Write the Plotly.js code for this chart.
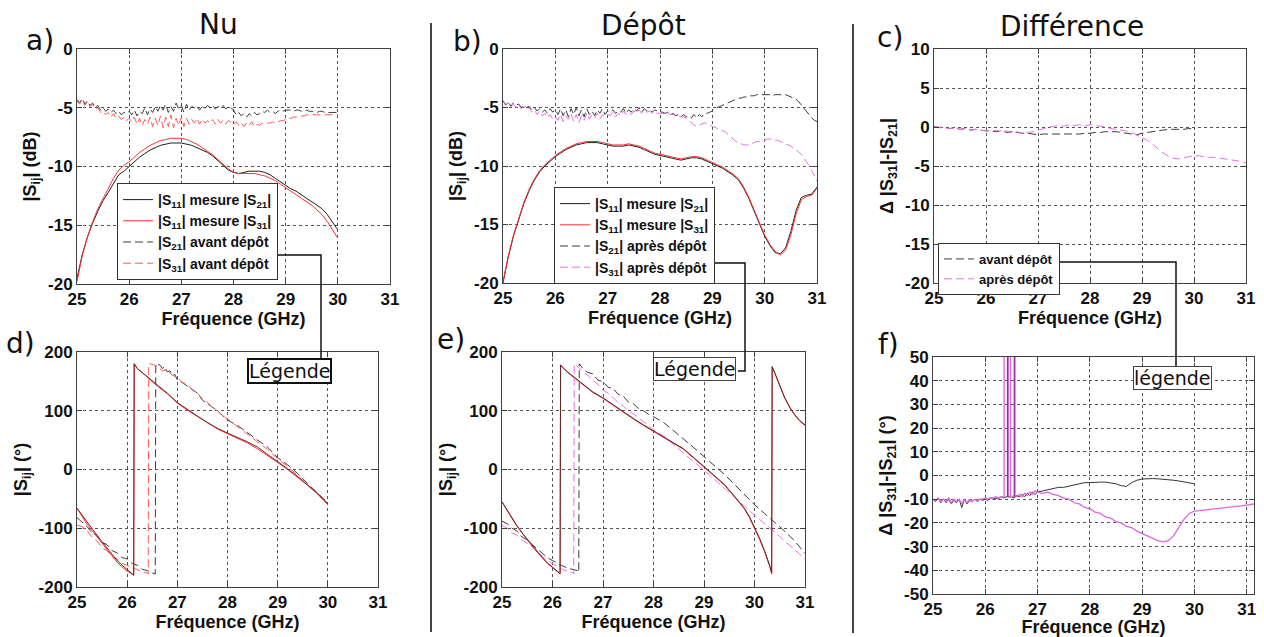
<!DOCTYPE html>
<html><head><meta charset="utf-8">
<script src="https://cdn.plot.ly/plotly-3.0.1.min.js"></script>
<style>html,body{margin:0;padding:0;background:#fff;}#chart{width:1264px;height:637px;}</style>
</head><body><div id="chart"></div>
<script>
// ---------------- DATA ----------------
const FREQ_A_01 = [25.0,25.1,25.2,25.3,25.4,25.5,25.6,25.7,25.8,25.9,26.0,26.1,26.2,26.3,26.4,26.5,26.6,26.7,26.8,26.9,27.0,27.1,27.2,27.3,27.4,27.5,27.6,27.7,27.8,27.9,28.0,28.1,28.2,28.3,28.4,28.5,28.6,28.7,28.8,28.9,29.0,29.1,29.2,29.3,29.4,29.5,29.6,29.7,29.8,29.9,30.0];
const FREQ_B_01 = [25.0,25.1,25.2,25.3,25.4,25.5,25.6,25.7,25.8,25.9,26.0,26.1,26.2,26.3,26.4,26.5,26.6,26.7,26.8,26.9,27.0,27.1,27.2,27.3,27.4,27.5,27.6,27.7,27.8,27.9,28.0,28.1,28.2,28.3,28.4,28.5,28.6,28.7,28.8,28.9,29.0,29.1,29.2,29.3,29.4,29.5,29.6,29.7,29.8,29.9,30.0,30.1,30.2,30.3,30.4,30.5,30.6,30.7,30.8,30.9,31.0];
const FREQ_A_005 = [25.00,25.05,25.10,25.15,25.20,25.25,25.30,25.35,25.40,25.45,25.50,25.55,25.60,25.65,25.70,25.75,25.80,25.85,25.90,25.95,26.00,26.05,26.10,26.15,26.20,26.25,26.30,26.35,26.40,26.45,26.50,26.55,26.60,26.65,26.70,26.75,26.80,26.85,26.90,26.95,27.00,27.05,27.10,27.15,27.20,27.25,27.30,27.35,27.40,27.45,27.50,27.55,27.60,27.65,27.70,27.75,27.80,27.85,27.90,27.95,28.00,28.05,28.10,28.15,28.20,28.25,28.30,28.35,28.40,28.45,28.50,28.55,28.60,28.65,28.70,28.75,28.80,28.85,28.90,28.95,29.00,29.05,29.10,29.15,29.20,29.25,29.30,29.35,29.40,29.45,29.50,29.55,29.60,29.65,29.70,29.75,29.80,29.85,29.90,29.95,30.00];
const FREQ_B_005 = [25.00,25.05,25.10,25.15,25.20,25.25,25.30,25.35,25.40,25.45,25.50,25.55,25.60,25.65,25.70,25.75,25.80,25.85,25.90,25.95,26.00,26.05,26.10,26.15,26.20,26.25,26.30,26.35,26.40,26.45,26.50,26.55,26.60,26.65,26.70,26.75,26.80,26.85,26.90,26.95,27.00,27.05,27.10,27.15,27.20,27.25,27.30,27.35,27.40,27.45,27.50,27.55,27.60,27.65,27.70,27.75,27.80,27.85,27.90,27.95,28.00,28.05,28.10,28.15,28.20,28.25,28.30,28.35,28.40,28.45,28.50,28.55,28.60,28.65,28.70,28.75,28.80,28.85,28.90,28.95,29.00,29.05,29.10,29.15,29.20,29.25,29.30,29.35,29.40,29.45,29.50,29.55,29.60,29.65,29.70,29.75,29.80,29.85,29.90,29.95,30.00,30.05,30.10,30.15,30.20,30.25,30.30,30.35,30.40,30.45,30.50,30.55,30.60,30.65,30.70,30.75,30.80,30.85,30.90,30.95,31.00];

// tick labels (hyphen minus, as in the reference)
const X_TICKS = [25,26,27,28,29,30,31];
const Y_TICKS_DB = [-20,-15,-10,-5,0];
const Y_TICKTEXT_DB = ['-20','-15','-10','-5','0'];
const Y_TICKS_DIFF = [-20,-15,-10,-5,0,5,10];
const Y_TICKTEXT_DIFF = ['-20','-15','-10','-5','0','5','10'];
const Y_TICKS_PH = [-200,-100,0,100,200];
const Y_TICKTEXT_PH = ['-200','-100','0','100','200'];
const Y_TICKS_DPH = [-50,-40,-30,-20,-10,0,10,20,30,40,50];
const Y_TICKTEXT_DPH = ['-50','-40','-30','-20','-10','0','10','20','30','40','50'];

// a) Nu : magnitude (dB)
const A_S11_S21 = [-19.5,-17.5,-16.0,-14.8,-13.8,-12.9,-12.2,-11.4,-10.7,-10.4,-10.0,-9.6,-9.2,-8.9,-8.6,-8.4,-8.2,-8.1,-8.0,-8.0,-8.0,-8.1,-8.2,-8.4,-8.6,-8.8,-9.1,-9.5,-9.9,-10.3,-10.5,-10.6,-10.5,-10.4,-10.4,-10.4,-10.5,-10.7,-11.0,-11.3,-11.6,-11.9,-12.1,-12.4,-12.7,-13.0,-13.3,-13.6,-14.1,-14.7,-15.4];
const A_S11_S31 = [-19.8,-17.6,-16.0,-14.7,-13.6,-12.7,-11.8,-11.0,-10.3,-9.9,-9.6,-9.2,-8.8,-8.5,-8.2,-8.0,-7.8,-7.7,-7.6,-7.6,-7.6,-7.7,-7.9,-8.1,-8.4,-8.7,-9.0,-9.4,-9.8,-10.2,-10.5,-10.6,-10.6,-10.6,-10.6,-10.7,-10.8,-11.0,-11.2,-11.5,-11.8,-12.1,-12.4,-12.7,-13.0,-13.3,-13.7,-14.1,-14.7,-15.4,-16.1];
const A_S21_AVANT = [-4.3,-4.6,-4.2,-4.7,-4.4,-4.8,-4.6,
 -5.0,-4.8,-5.2,-5.0,-5.3,-5.1,-5.4,-5.2,-5.5,-5.3,-5.6,-5.4,-5.5,-5.3,
 -5.6,-5.2,-5.7,-5.3,-5.5,-5.0,-5.6,-5.1,-5.4,-4.9,
 -5.3,-4.8,-5.2,-4.7,-5.4,-4.9,-5.3,-4.6,-5.1,-4.8,-5.4,-4.7,-5.2,-4.9,-5.0,-4.8,-5.2,-4.9,-5.1,-4.8,
 -5.0,-4.8,-5.1,-4.9,-5.0,-4.8,-5.1,-4.9,-5.0,-5.2,
 -5.6,-5.4,-5.7,-5.5,-5.8,-5.5,-5.7,-5.4,-5.6,-5.5,
 -5.3,-5.4,-5.2,-5.4,-5.3,-5.5,-5.3,-5.2,-5.3,-5.2,
 -5.2,-5.2,-5.3,-5.2,-5.2,-5.3,-5.3,-5.2,-5.3,-5.3,-5.3,-5.4,-5.3,-5.3,-5.4,-5.4,-5.4,-5.4,-5.4,-5.4];
const A_S31_AVANT = [-4.4,-4.7,-4.3,-4.8,-4.5,-4.9,-4.7,
 -5.1,-5.0,-5.4,-5.3,-5.6,-5.4,-5.8,-5.5,-5.9,-5.7,-6.0,-5.8,-6.1,-5.9,
 -6.2,-5.8,-6.4,-5.9,-6.5,-6.0,-6.4,-5.8,-6.6,-5.9,
 -6.5,-5.7,-6.7,-5.8,-6.6,-5.6,-6.7,-5.9,-6.5,-5.8,-6.6,-5.9,-6.4,-6.0,-6.3,-5.9,-6.4,-6.0,-6.3,-6.1,
 -6.3,-6.0,-6.4,-6.0,-6.3,-6.1,-6.4,-6.1,-6.2,-6.4,
 -6.2,-6.5,-6.3,-6.6,-6.3,-6.5,-6.2,-6.6,-6.4,-6.5,
 -6.3,-6.4,-6.3,-6.3,-6.2,-6.3,-6.2,-6.1,-6.1,-6.0,
 -5.9,-5.9,-5.8,-5.8,-5.7,-5.7,-5.7,-5.6,-5.6,-5.6,-5.6,-5.6,-5.6,-5.6,-5.6,-5.6,-5.6,-5.6,-5.6,-5.6];

// b) Dépôt : magnitude (dB)
const B_S11_S21 = [-20.0,-17.8,-16.0,-14.5,-13.2,-12.1,-11.2,-10.5,-10.0,-9.6,-9.2,-8.9,-8.6,-8.4,-8.2,-8.1,-8.0,-8.0,-8.0,-8.1,-8.2,-8.3,-8.3,-8.3,-8.2,-8.3,-8.4,-8.6,-8.8,-9.0,-9.1,-9.2,-9.3,-9.4,-9.5,-9.4,-9.3,-9.3,-9.4,-9.6,-9.8,-10.0,-10.2,-10.5,-10.8,-11.2,-11.9,-12.8,-13.9,-15.0,-16.0,-16.8,-17.4,-17.5,-17.0,-15.6,-13.8,-12.7,-12.5,-12.4,-11.8];
const B_S11_S31 = [-19.9,-17.7,-15.9,-14.4,-13.1,-12.0,-11.1,-10.4,-9.9,-9.5,-9.1,-8.8,-8.5,-8.3,-8.1,-8.0,-7.9,-7.9,-7.9,-8.0,-8.1,-8.2,-8.2,-8.2,-8.1,-8.2,-8.3,-8.5,-8.7,-8.9,-9.0,-9.1,-9.2,-9.3,-9.4,-9.3,-9.2,-9.2,-9.3,-9.5,-9.7,-9.9,-10.1,-10.4,-10.7,-11.1,-11.8,-12.7,-13.8,-14.9,-15.9,-16.7,-17.3,-17.6,-17.2,-15.9,-14.1,-12.9,-12.6,-12.5,-11.9];
const B_S21_APRES = [-4.4,-4.8,-4.5,-4.9,-4.6,-4.8,-4.7,-5.0,-4.8,-5.0,-4.9,
 -5.2,-5.0,-5.3,-5.1,-5.4,-5.2,-5.5,-5.1,-5.4,-5.2,
 -5.6,-5.1,-5.7,-5.2,-5.8,-5.1,-5.6,-5.0,-5.7,-5.2,-5.8,-5.1,-5.6,-5.3,-5.7,-5.2,-5.5,-5.1,-5.6,-5.3,
 -5.4,-5.2,-5.5,-5.3,-5.4,-5.1,-5.5,-5.2,-5.4,-5.1,-5.3,-5.0,-5.4,-5.1,-5.3,-5.2,-5.4,-5.2,-5.3,-5.4,
 -5.4,-5.5,-5.4,-5.6,-5.5,-5.7,-5.6,-5.8,-5.6,-5.8,
 -5.7,-5.9,-5.6,-5.9,-5.6,-5.8,-5.5,-5.5,-5.4,-5.3,
 -5.1,-5.0,-4.9,-4.8,-4.7,-4.6,-4.5,-4.4,-4.3,-4.2,
 -4.2,-4.1,-4.1,-4.0,-4.0,-4.0,-3.9,-3.9,-3.9,-3.9,
 -3.9,-3.9,-4.0,-3.9,-3.9,-3.9,-4.0,-3.9,-4.0,-4.1,
 -4.2,-4.3,-4.5,-4.8,-5.1,-5.4,-5.7,-5.9,-6.1,-6.2];
const B_S31_APRES = [-4.5,-4.7,-4.6,-4.9,-4.7,-5.0,-4.8,-5.1,-4.9,-5.2,-5.0,
 -5.4,-5.2,-5.6,-5.3,-5.7,-5.5,-5.9,-5.6,-6.0,-5.8,
 -6.1,-5.6,-6.2,-5.7,-6.0,-5.5,-6.2,-5.6,-6.3,-5.7,-6.1,-5.5,-6.0,-5.6,-5.9,-5.5,-6.0,-5.6,-5.8,-5.6,
 -5.7,-5.4,-5.8,-5.5,-5.7,-5.3,-5.6,-5.4,-5.6,-5.3,-5.5,-5.2,-5.5,-5.3,-5.4,-5.3,-5.5,-5.4,-5.5,-5.5,
 -5.5,-5.6,-5.5,-5.6,-5.6,-5.7,-5.7,-5.8,-5.8,-5.9,
 -6.1,-6.3,-6.5,-6.6,-6.5,-6.4,-6.3,-6.4,-6.5,-6.6,
 -6.7,-6.8,-6.9,-7.0,-7.1,-7.3,-7.5,-7.7,-7.9,-8.0,
 -8.1,-8.2,-8.2,-8.2,-8.1,-8.0,-7.9,-7.9,-7.8,-7.8,
 -7.7,-7.7,-7.7,-7.8,-7.8,-7.9,-8.0,-8.1,-8.2,-8.3,
 -8.5,-8.6,-8.8,-9.0,-9.3,-9.6,-10.0,-10.4,-10.8,-11.3];

// c) Différence (dB)
const C_AVANT = [0.1,-0.1,0.0,-0.2,-0.1,-0.3,-0.2,-0.4,-0.3,-0.4,-0.5,
 -0.5,-0.6,-0.5,-0.7,-0.6,-0.7,-0.8,-0.8,
 -0.9,-1.0,-0.9,-0.9,-0.9,-0.9,-0.9,-0.9,-0.9,-0.9,-0.8,-0.8,
 -0.7,-0.7,-0.6,-0.6,-0.6,
 -0.7,-0.8,-0.9,-1.0,-0.8,
 -0.7,-0.6,-0.5,-0.4,-0.3,-0.3,-0.3,-0.3,-0.2,-0.2];
const C_APRES = [0.1,0.0,-0.1,-0.2,-0.1,-0.3,-0.2,-0.4,-0.3,-0.5,-0.4,
 -0.6,-0.4,-0.7,-0.5,-0.8,-0.6,-0.9,-0.7,-0.6,-0.4,
 -0.2,0.0,0.1,0.2,0.1,0.3,0.2,0.3,0.1,0.3,
 0.2,0.1,0.0,-0.2,-0.3,
 -0.4,-0.5,-0.7,-1.0,-1.3,
 -1.7,-2.2,-2.8,-3.3,-3.7,
 -4.0,-4.1,-4.0,-3.8,-3.7,
 -3.7,-3.8,-3.9,-3.9,-4.0,-4.1,-4.2,-4.3,-4.4,-4.6];

// d) Nu : phase (°)
const D_SOLID_F = [25.0,25.1,25.2,25.3,25.4,25.5,25.6,25.7,25.8,25.9,26.0,26.1,26.13,26.14,26.2,26.3,26.4,26.5,26.6,26.8,27.0,27.2,27.4,27.6,27.8,28.0,28.2,28.4,28.6,28.8,29.0,29.2,29.4,29.6,29.8,30.0];
const D_S11_S21 = [-66,-78,-90,-101,-112,-123,-134,-145,-155,-163,-170,-177,-180,180,172,165,158,150,143,130,114,102,91,80,70,62,55,47,38,26,13,1,-12,-26,-41,-58];
const D_S11_S31 = [-66,-80,-93,-104,-115,-126,-137,-148,-158,-166,-173,-178,-180,180,172,165,157,149,142,129,113,101,90,79,69,61,53,45,35,24,12,0,-13,-27,-42,-60];
const D_S21_F = [25.0,25.1,25.2,25.3,25.4,25.5,25.6,25.7,25.8,25.9,26.0,26.1,26.2,26.3,26.4,26.5,26.56,26.57,26.65,26.7,26.75,26.8,26.85,26.9,26.95,27.0,27.1,27.2,27.3,27.4,27.5,27.6,27.7,27.8,27.9,28.0,28.2,28.4,28.6,28.8,29.0,29.2,29.4,29.6,29.8,30.0];
const D_S21_AVANT = [-82,-90,-97,-108,-112,-124,-128,-138,-142,-150,-152,-160,-163,-170,-172,-176,-178,180,178,172,175,166,168,160,162,152,148,142,136,130,118,112,105,100,92,84,75,62,50,38,20,8,-7,-24,-40,-57];
const D_S31_F = [25.0,25.1,25.2,25.3,25.4,25.5,25.6,25.7,25.8,25.9,26.0,26.1,26.2,26.3,26.4,26.42,26.43,26.5,26.6,26.7,26.8,26.9,27.0,27.1,27.2,27.3,27.4,27.5,27.6,27.7,27.8,27.9,28.0,28.2,28.4,28.6,28.8,29.0,29.2,29.4,29.6,29.8,30.0];
const D_S31_AVANT = [-95,-97,-104,-115,-122,-133,-138,-148,-152,-160,-163,-168,-170,-175,-176,-178,180,179,176,168,170,160,158,148,145,135,130,120,115,105,100,92,86,73,60,47,34,18,5,-10,-27,-42,-60];

// e) Dépôt : phase (°)
const E_SOLID_F = [25.0,25.1,25.2,25.3,25.4,25.5,25.6,25.7,25.8,25.9,26.0,26.1,26.15,26.16,26.2,26.3,26.4,26.5,26.6,26.8,27.0,27.2,27.4,27.6,27.8,28.0,28.2,28.4,28.6,28.8,29.0,29.2,29.4,29.6,29.7,29.8,29.9,30.0,30.1,30.2,30.25,30.3,30.34,30.35,30.4,30.5,30.6,30.7,30.8,30.9,31.0];
const E_S11_S21 = [-55,-69,-83,-96,-108,-119,-130,-140,-150,-159,-166,-173,-177,178,174,166,159,152,145,132,122,110,98,87,76,66,56,46,35,20,5,-10,-25,-45,-55,-66,-80,-98,-117,-138,-150,-163,-176,175,165,142,122,106,93,83,76];
const E_S11_S31 = [-55,-70,-84,-97,-109,-120,-131,-141,-151,-160,-167,-174,-178,178,173,165,158,151,144,131,121,109,97,86,75,65,55,45,34,19,4,-11,-26,-46,-56,-67,-82,-100,-119,-140,-152,-165,-178,175,164,141,121,105,92,82,75];
const E_S21_F = [25.0,25.1,25.2,25.3,25.4,25.5,25.6,25.7,25.8,25.9,26.0,26.1,26.2,26.3,26.4,26.5,26.52,26.53,26.6,26.7,26.8,26.9,27.0,27.1,27.2,27.3,27.4,27.5,27.6,27.7,27.8,27.9,28.0,28.2,28.4,28.6,28.8,29.0,29.2,29.4,29.6,29.8,30.0,30.2,30.4,30.6,30.8,31.0];
const E_S21_APRES = [-88,-92,-100,-105,-115,-120,-128,-135,-143,-150,-155,-160,-164,-168,-170,-172,-175,180,172,165,163,152,150,140,138,128,125,115,112,104,100,94,90,80,66,52,37,22,7,-8,-25,-42,-60,-75,-90,-105,-122,-143];
const E_S31_F = [25.0,25.1,25.2,25.3,25.4,25.5,25.6,25.7,25.8,25.9,26.0,26.1,26.2,26.3,26.4,26.42,26.43,26.5,26.6,26.7,26.8,26.9,27.0,27.1,27.2,27.3,27.4,27.5,27.6,27.7,27.8,27.9,28.0,28.2,28.4,28.6,28.8,29.0,29.2,29.4,29.6,29.8,30.0,30.2,30.4,30.6,30.8,31.0];
const E_S31_APRES = [-95,-100,-108,-112,-120,-126,-132,-140,-148,-155,-160,-165,-170,-173,-176,-178,180,175,168,160,152,145,135,130,122,114,108,100,95,88,82,75,68,57,42,27,13,-1,-16,-31,-47,-62,-78,-92,-106,-122,-137,-152];

// f) Différence : phase (°)
const F_AVANT_F = [25.00,25.05,25.10,25.15,25.20,25.25,25.30,25.35,25.40,25.45,25.50,25.55,25.60,25.65,25.70,25.75,25.80,25.85,25.90,25.95,26.00,26.05,26.10,26.15,26.20,26.25,26.30,26.35,26.40,26.45,26.50,26.55,26.60,26.65,26.70,26.75,26.80,26.85,26.90,26.95,27.0,27.1,27.2,27.3,27.4,27.5,27.6,27.7,27.8,27.9,28.0,28.1,28.2,28.3,28.4,28.5,28.6,28.7,28.8,28.9,29.0,29.1,29.2,29.3,29.4,29.5,29.6,29.7,29.8,29.9,30.0];
const F_AVANT = [-10,-11,-9.5,-11.5,-10,-11.5,-10,-12,-10.5,-11.5,-10,-13.5,-10,-12,-10.5,-11,-10,-11,-10,-10.5,-10,-10.5,-9.5,-10,-9.5,-10,-9,-9.5,-9,-9,-9,-9.5,-8.5,-9,-8,-9,-7.5,-8.5,-7,-8,
 -7,-6.5,-6,-5.5,-5,-5,-4.5,-4,-3.5,-3,-3,-2.8,-2.8,-2.8,-3,-3.5,-4.3,-4.6,-3,-2,-1.5,-1.3,-1.3,-1.4,-1.5,-1.7,-2,-2.3,-2.7,-3,-3.5];
const F_AVANT_SPIKE_F = [26.43,26.43,26.56,26.56];
const F_AVANT_SPIKE = [-9,200,200,-9];
const F_APRES_F = [25.00,25.05,25.10,25.15,25.20,25.25,25.30,25.35,25.40,25.45,25.50,25.55,25.60,25.65,25.70,25.75,25.80,25.85,25.90,25.95,26.00,26.05,26.10,26.15,26.20,26.25,26.30,26.35,26.36,26.36,26.48,26.48,26.50,26.55,26.60,26.65,26.70,26.75,26.80,26.85,26.90,26.95,27.0,27.1,27.2,27.3,27.4,27.5,27.6,27.7,27.8,27.9,28.0,28.1,28.2,28.3,28.4,28.5,28.6,28.7,28.8,28.9,29.0,29.1,29.2,29.3,29.4,29.5,29.6,29.7,29.8,29.9,30.0,30.1,30.2,30.3,30.4,30.5,30.6,30.7,30.8,30.9,31.0,31.1,31.15];
const F_APRES = [-10,-10.5,-9.5,-11,-10,-11,-9.5,-11.5,-10,-11,-10,-12,-10,-11.5,-10,-11,-10,-10.5,-10,-10,-9.5,-10,-9.5,-9.5,-9,-9.5,-9,-9,
 -9,200,200,-9,
 -9,-8.5,-9,-8,-9,-7.5,-8.5,-7,-8,-6.5,
 -7,-7.5,-7,-8,-8.5,-9.5,-10,-11.5,-12,-13.5,-14,-15.5,-16,-17.5,-18,-19.5,-20,-21.5,-22,-23.5,-24.5,-25.5,-26.5,-27.5,-28,-27.5,-25.5,-22,-18.5,-16,-15,-14.8,-14.5,-14.3,-14,-13.8,-13.5,-13.3,-13,-12.8,-12.5,-12.2,-12];

// ---------------- LAYOUT HELPERS ----------------
const W = 1264, H = 637;
const PX = x => x / W, PY = y => 1 - y / H;
const TICKFONT = {family:'Liberation Sans, Arial, sans-serif', size:17, color:'#111', weight:'bold'};
const TITLEFONT = {family:'Liberation Sans, Arial, sans-serif', size:18, color:'#111', weight:'bold'};
const BK = '#1e1e1e', RD = '#ff3030', BKD = '#3c3c3c', RDD = '#ff5a5a', MGD = '#ee6ee8', MG = '#dd66dd', PU = '#a02ca0';
const DASH = '8px,4px';

function xax(px0, px1, anchor, range) {
  return {domain:[PX(px0), PX(px1)], anchor:anchor, range:range, tickmode:'array', tickvals:X_TICKS,
    showline:true, mirror:'ticks', linecolor:'#404040', linewidth:1, ticks:'inside', ticklen:5, tickcolor:'#404040',
    showgrid:true, gridcolor:'#555', griddash:'dot', gridwidth:1, zeroline:false, tickfont:TICKFONT,
    title:{text:'Fréquence (GHz)', font:TITLEFONT, standoff:0}};
}
function yax(py0, py1, anchor, range, tv, tt, title) {
  return {domain:[PY(py1), PY(py0)], anchor:anchor, range:range, tickmode:'array', tickvals:tv, ticktext:tt,
    showline:true, mirror:'ticks', linecolor:'#404040', linewidth:1, ticks:'inside', ticklen:5, tickcolor:'#404040',
    showgrid:true, gridcolor:'#555', griddash:'dot', gridwidth:1, zeroline:false, tickfont:TICKFONT,
    title:{text:title, font:TITLEFONT, standoff:6}};
}
function ln(x, y, xa, ya, color, dash, name, legend, width) {
  return {type:'scatter', mode:'lines', x:x, y:y, xaxis:xa, yaxis:ya, name:name||'',
    showlegend:!!name, legend:legend||'legend',
    line:{color:color, width:width||1, dash:dash||'solid'}, hoverinfo:'skip'};
}
const N1 = '|S<sub>11</sub>| mesure |S<sub>21</sub>|';
const N2 = '|S<sub>11</sub>| mesure |S<sub>31</sub>|';

const traces = [
  ln(FREQ_A_01, A_S11_S21, 'x','y', BK, 'solid', N1, 'legend'),
  ln(FREQ_A_01, A_S11_S31, 'x','y', RD, 'solid', N2, 'legend'),
  ln(FREQ_A_005, A_S21_AVANT, 'x','y', BKD, DASH, '|S<sub>21</sub>| avant dépôt', 'legend'),
  ln(FREQ_A_005, A_S31_AVANT, 'x','y', RDD, DASH, '|S<sub>31</sub>| avant dépôt', 'legend'),
  ln(FREQ_B_01, B_S11_S21, 'x2','y2', BK, 'solid', N1, 'legend2'),
  ln(FREQ_B_01, B_S11_S31, 'x2','y2', RD, 'solid', N2, 'legend2'),
  ln(FREQ_B_005, B_S21_APRES, 'x2','y2', BKD, DASH, '|S<sub>21</sub>| après dépôt', 'legend2'),
  ln(FREQ_B_005, B_S31_APRES, 'x2','y2', MGD, DASH, '|S<sub>31</sub>| après dépôt', 'legend2'),
  ln(FREQ_A_01, C_AVANT, 'x3','y3', BKD, DASH, 'avant dépôt', 'legend3'),
  ln(FREQ_B_01, C_APRES, 'x3','y3', MGD, DASH, 'après dépôt', 'legend3'),
  ln(D_S21_F, D_S21_AVANT, 'x4','y4', BKD, DASH),
  ln(D_S31_F, D_S31_AVANT, 'x4','y4', RDD, DASH),
  ln(D_SOLID_F, D_S11_S31, 'x4','y4', RD, 'solid'),
  ln(D_SOLID_F, D_S11_S21, 'x4','y4', '#7a2020', 'solid'),
  ln(E_S21_F, E_S21_APRES, 'x5','y5', BKD, DASH),
  ln(E_S31_F, E_S31_APRES, 'x5','y5', MGD, DASH),
  ln(E_SOLID_F, E_S11_S31, 'x5','y5', RD, 'solid'),
  ln(E_SOLID_F, E_S11_S21, 'x5','y5', '#5a2a2a', 'solid'),
  ln(F_AVANT_F, F_AVANT, 'x6','y6', '#333', 'solid'),
  ln(F_APRES_F, F_APRES, 'x6','y6', MG, 'solid', null, null, 1.3),
  ln(F_AVANT_SPIKE_F, F_AVANT_SPIKE, 'x6','y6', PU, 'solid', null, null, 1.8)
];

function leg(x, y, size) {
  return {x:PX(x), y:PY(y), xanchor:'left', yanchor:'top', xref:'paper', yref:'paper',
    bgcolor:'#fff', bordercolor:'#333', borderwidth:1, tracegroupgap:0, itemclick:false,
    font:{family:'Liberation Sans, Arial, sans-serif', size:size, color:'#111', weight:'bold'}};
}
function txt(x, y, text, size, opts) {
  return Object.assign({xref:'paper', yref:'paper', x:PX(x), y:PY(y), text:text, showarrow:false,
    xanchor:'center', yanchor:'middle', font:{family:'DejaVu Sans, sans-serif', size:size, color:'#111'}}, opts||{});
}
function path(pts) {
  return 'M' + pts.map(p => PX(p[0]).toFixed(5) + ',' + PY(p[1]).toFixed(5)).join(' L');
}

const layout = {
  width:W, height:H, margin:{l:0, r:0, t:0, b:0},
  paper_bgcolor:'#fff', plot_bgcolor:'#fff', showlegend:true,
  xaxis: xax(77, 390, 'y', [25, 31]),    yaxis: yax(49, 284, 'x', [-20, 0], Y_TICKS_DB, Y_TICKTEXT_DB, '|S<sub>ij</sub>| (dB)'),
  xaxis2: xax(503, 817, 'y2', [25, 31]), yaxis2: yax(49, 283, 'x2', [-20, 0], Y_TICKS_DB, Y_TICKTEXT_DB, '|S<sub>ij</sub>| (dB)'),
  xaxis3: xax(934, 1246, 'y3', [25, 31]), yaxis3: yax(49, 283, 'x3', [-20, 10], Y_TICKS_DIFF, Y_TICKTEXT_DIFF, 'Δ |S<sub>31</sub>|-|S<sub>21</sub>|'),
  xaxis4: xax(77, 378, 'y4', [25, 31]),  yaxis4: yax(352, 587, 'x4', [-200, 200], Y_TICKS_PH, Y_TICKTEXT_PH, '|S<sub>ij</sub>| (°)'),
  xaxis5: xax(502, 805, 'y5', [25, 31]), yaxis5: yax(352, 587, 'x5', [-200, 200], Y_TICKS_PH, Y_TICKTEXT_PH, '|S<sub>ij</sub>| (°)'),
  xaxis6: xax(933, 1254, 'y6', [25, 31.14]), yaxis6: yax(357, 594, 'x6', [-50, 50], Y_TICKS_DPH, Y_TICKTEXT_DPH, 'Δ |S<sub>31</sub>|-|S<sub>21</sub>| (°)'),
  legend: leg(117, 183, 14), legend2: leg(554, 187, 14), legend3: leg(938, 243, 13),
  annotations: [
    txt(218, 24, 'Nu', 28), txt(643, 25, 'Dépôt', 28), txt(1072, 27, 'Différence', 28),
    txt(40, 41, 'a)', 28), txt(467, 42, 'b)', 28), txt(890, 38, 'c)', 28),
    txt(21, 343, 'd)', 28), txt(451, 339, 'e)', 28), txt(888, 344, 'f)', 28),
    txt(289, 371, 'Légende', 19, {bgcolor:'#fff', bordercolor:'#111', borderwidth:2, borderpad:0}),
    txt(694, 369, 'Légende', 19, {bgcolor:'#fff', bordercolor:'#444', borderwidth:1, borderpad:0}),
    txt(1172, 378, 'légende', 19, {bgcolor:'#fff', bordercolor:'#444', borderwidth:1, borderpad:0})
  ],
  shapes: [
    {type:'line', xref:'paper', yref:'paper', x0:PX(431), x1:PX(431), y0:PY(23), y1:PY(632), line:{color:'#444', width:2}},
    {type:'line', xref:'paper', yref:'paper', x0:PX(853), x1:PX(853), y0:PY(24), y1:PY(633), line:{color:'#444', width:2}},
    {type:'path', xref:'paper', yref:'paper', path:path([[277,255],[321,255],[321,360]]), line:{color:'#111', width:1.5}},
    {type:'path', xref:'paper', yref:'paper', path:path([[711,263],[745,263],[745,371],[738,371]]), line:{color:'#111', width:1.5}},
    {type:'path', xref:'paper', yref:'paper', path:path([[1060,262],[1176,262],[1176,367]]), line:{color:'#111', width:1.5}}
  ]
};

Plotly.newPlot('chart', traces, layout, {staticPlot:true, displayModeBar:false});
</script></body></html>
